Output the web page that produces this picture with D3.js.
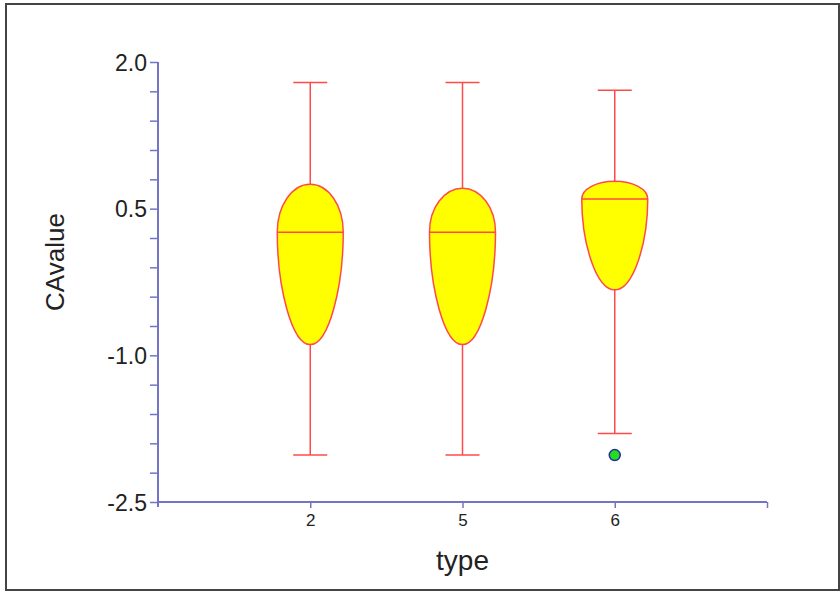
<!DOCTYPE html>
<html>
<head>
<meta charset="utf-8">
<script src="https://cdn.jsdelivr.net/npm/d3@7"></script>
<style>
  html, body { margin: 0; padding: 0; background: #fff; }
  svg { display: block; font-family: "Liberation Sans", Arial, sans-serif; }
</style>
</head>
<body>
<svg id="chart" width="840" height="591"></svg>
<script>
// ---- data ----
const categories   = ["2", "5", "6"];
const whiskerHigh  = [1.79, 1.79, 1.71];
const q3Values     = [0.75, 0.71, 0.78];
const medianValues = [0.26, 0.26, 0.60];
const q1Values     = [-0.89, -0.89, -0.33];
const whiskerLow   = [-2.02, -2.02, -1.80];
const outlierCats  = ["6"];
const outlierVals  = [-2.02];
const yMajorTicks  = [-2.5, -1.0, 0.5, 2.0];
const yTickLabels  = ["-2.5", "-1.0", "0.5", "2.0"];
const yMinorStep   = 0.3;
const xLabel = "type";
const yLabel = "CAvalue";

// ---- layout ----
const svg = d3.select("#chart");
const plotL = 158, plotR = 767, plotT = 62, plotB = 502;
const axisColor = "#7474c6";
const redColor = "#ff4a4a";

// frame
svg.append("rect").attr("x", 6).attr("y", 4).attr("width", 833).attr("height", 586)
  .attr("fill", "none").attr("stroke", "#444").attr("stroke-width", 2);

const y = d3.scaleLinear().domain([-2.5, 2.0]).range([plotB, plotT]);
const xPos = d3.scaleLinear().domain([0, categories.length + 1]).range([plotL, plotR]);
const x = c => xPos(categories.indexOf(c) + 1);

// y axis
const nMinor = Math.round((2.0 - (-2.5)) / yMinorStep);
const allYTicks = d3.range(nMinor + 1).map(i => +(-2.5 + i * yMinorStep).toFixed(2));
const yAxis = d3.axisLeft(y).tickValues(allYTicks).tickSizeOuter(0).tickSize(8)
  .tickFormat(v => { const i = yMajorTicks.findIndex(m => Math.abs(m - v) < 1e-6); return i >= 0 ? yTickLabels[i] : ""; });
const gy = svg.append("g").attr("transform", `translate(${plotL},0)`).call(yAxis);
gy.select(".domain").remove();
gy.selectAll(".tick line").attr("stroke", axisColor).attr("stroke-width", 1.5);
gy.selectAll(".tick text").attr("fill", "#222").attr("font-size", 23).attr("x", -11).attr("dy", "0.35em");
gy.append("line").attr("x1", 0).attr("x2", 0).attr("y1", plotT).attr("y2", plotB + 5)
  .attr("stroke", axisColor).attr("stroke-width", 2);

// x axis
const xTickVals = d3.range(1, categories.length + 2);
const xAxis = d3.axisBottom(xPos).tickValues(xTickVals).tickSizeOuter(0).tickSize(6)
  .tickFormat(v => v <= categories.length ? categories[v - 1] : "");
const gx = svg.append("g").attr("transform", `translate(0,${plotB})`).call(xAxis);
gx.select(".domain").remove();
gx.selectAll(".tick line").attr("stroke", axisColor).attr("stroke-width", 1.5);
gx.selectAll(".tick text").attr("fill", "#222").attr("font-size", 17).attr("y", 12);
gx.append("line").attr("x1", plotL).attr("x2", plotR).attr("y1", 0).attr("y2", 0)
  .attr("stroke", axisColor).attr("stroke-width", 2);

// axis titles
svg.append("text").attr("x", xPos((categories.length + 1) / 2)).attr("y", 570)
  .attr("text-anchor", "middle").attr("font-size", 28).attr("fill", "#222").text(xLabel);
svg.append("text").attr("transform", `translate(64,${(plotT + plotB) / 2 - 20}) rotate(-90)`)
  .attr("text-anchor", "middle").attr("font-size", 26).attr("fill", "#222").text(yLabel);

// boxes
const hw = 33, capHw = 17;
const data = categories.map((c, i) => ({ c, hi: whiskerHigh[i], q3: q3Values[i], med: medianValues[i], q1: q1Values[i], lo: whiskerLow[i] }));
const g = svg.append("g");
data.forEach(d => {
  const cx = x(d.c);
  // whiskers
  g.append("line").attr("x1", cx).attr("x2", cx).attr("y1", y(d.hi)).attr("y2", y(d.lo))
    .attr("stroke", redColor).attr("stroke-width", 1.5);
  [d.hi, d.lo].forEach(v => g.append("line").attr("x1", cx - capHw).attr("x2", cx + capHw)
    .attr("y1", y(v)).attr("y2", y(v)).attr("stroke", redColor).attr("stroke-width", 1.5));
  // body
  const yt = y(d.q3), ym = y(d.med), yb = y(d.q1);
  const h = yb - ym, a = 0.5, b = 0.55;
  const pathStr = `M${cx - hw},${ym} A${hw},${ym - yt} 0 0 1 ${cx + hw},${ym} ` +
    `C${cx + hw},${ym + a * h} ${cx + hw * b},${yb} ${cx},${yb} ` +
    `C${cx - hw * b},${yb} ${cx - hw},${ym + a * h} ${cx - hw},${ym} Z`;
  g.append("path").attr("d", pathStr).attr("fill", "#ffff00").attr("stroke", redColor).attr("stroke-width", 1.5);
  g.append("line").attr("x1", cx - hw).attr("x2", cx + hw).attr("y1", ym).attr("y2", ym)
    .attr("stroke", redColor).attr("stroke-width", 1.5);
});

// outliers
outlierCats.forEach((c, i) => {
  g.append("circle").attr("cx", x(c)).attr("cy", y(outlierVals[i])).attr("r", 5.5)
    .attr("fill", "#22dd22").attr("stroke", "#2a2a99").attr("stroke-width", 1.5);
});
</script>
</body>
</html>
